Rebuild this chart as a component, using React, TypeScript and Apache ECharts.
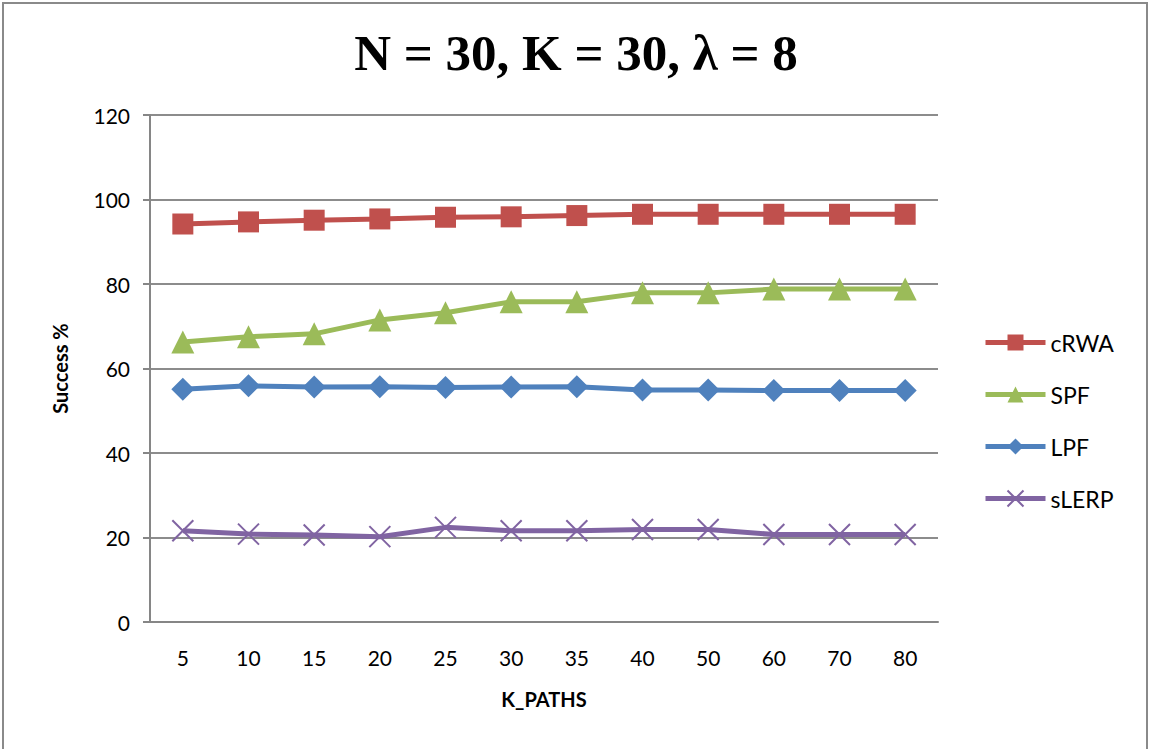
import React, { useEffect, useRef } from "react";
import * as echarts from "echarts";

const categories = ["5", "10", "15", "20", "25", "30", "35", "40", "50", "60", "70", "80"];
const cRWA = [94.2, 94.7, 95.1, 95.4, 95.8, 95.9, 96.2, 96.5, 96.5, 96.5, 96.5, 96.5];
const SPF = [66.3, 67.5, 68.2, 71.5, 73.2, 75.8, 75.8, 77.9, 77.9, 78.8, 78.8, 78.8];
const LPF = [55.1, 55.9, 55.6, 55.7, 55.5, 55.6, 55.7, 54.9, 54.9, 54.8, 54.8, 54.8];
const sLERP = [21.6, 20.8, 20.6, 20.2, 22.4, 21.6, 21.6, 21.9, 21.9, 20.7, 20.7, 20.7];

const labelFont = "Lato, 'Open Sans', sans-serif";

export default function App() {
  const ref = useRef<HTMLDivElement>(null);
  useEffect(() => {
    document.body.style.margin = "0";
    const chart = echarts.init(ref.current!, null, { renderer: "svg" });
    const mk = (name: string, data: number[], color: string, symbol: string, size: number) => ({
      name,
      type: "line",
      data,
      symbol,
      symbolSize: size,
      lineStyle: { color, width: 5 },
      itemStyle: { color },
      emphasis: { disabled: true },
    });
    chart.setOption({
      animation: false,
      backgroundColor: "#fff",
      title: {
        text: "N = 30, K = 30, λ = 8",
        left: "center",
        top: 22,
        textStyle: { fontFamily: "'Liberation Serif', 'Times New Roman', serif", fontWeight: "bold", fontSize: 51, color: "#000" },
      },
      graphic: [
        { type: "rect", shape: { x: 3, y: 3, width: 1144, height: 760 }, style: { fill: "none", stroke: "#8a8a8a", lineWidth: 2 }, silent: true },
      ],
      legend: {
        orient: "vertical",
        left: 978,
        top: 326,
        itemWidth: 60,
        itemHeight: 20,
        itemGap: 29,
        lineStyle: { width: 5 },
        textStyle: { fontFamily: labelFont, fontSize: 23, color: "#000" },
        data: ["cRWA", "SPF", "LPF", "sLERP"],
      },
      grid: { left: 150, right: 214, top: 115, bottom: 127 },
      xAxis: {
        type: "category",
        data: categories,
        boundaryGap: true,
        name: "K_PATHS",
        nameLocation: "middle",
        nameGap: 67,
        nameTextStyle: { fontFamily: labelFont, fontWeight: "bold", fontSize: 20, color: "#000" },
        axisLine: { lineStyle: { color: "#868686", width: 2 } },
        axisTick: { show: false },
        axisLabel: { fontFamily: labelFont, fontSize: 21, color: "#000", margin: 25 },
      },
      yAxis: {
        type: "value",
        min: 0,
        max: 120,
        interval: 20,
        name: "Success %",
        nameLocation: "middle",
        nameGap: 80,
        nameTextStyle: { fontFamily: labelFont, fontWeight: "bold", fontSize: 20, color: "#000" },
        axisLine: { show: true, lineStyle: { color: "#868686", width: 2 } },
        axisTick: { show: true, length: 7, lineStyle: { color: "#868686", width: 2 } },
        axisLabel: { fontFamily: labelFont, fontSize: 21, color: "#000", margin: 20 },
        splitLine: { lineStyle: { color: "#8c8c8c", width: 2 } },
      },
      series: [
        mk("cRWA", cRWA, "#C0504D", "rect", 21),
        mk("SPF", SPF, "#9BBB59", "triangle", 23),
        mk("LPF", LPF, "#4F81BD", "diamond", 23),
        {
          ...mk("sLERP", sLERP, "#8064A2", "path://M0 0L10 10M10 0L0 10", 21),
          itemStyle: { color: "#8064A2", borderColor: "#8064A2", borderWidth: 2 },
        },
      ],
    });
    return () => chart.dispose();
  }, []);
  return <div ref={ref} style={{ width: 1152, height: 749 }} />;
}
